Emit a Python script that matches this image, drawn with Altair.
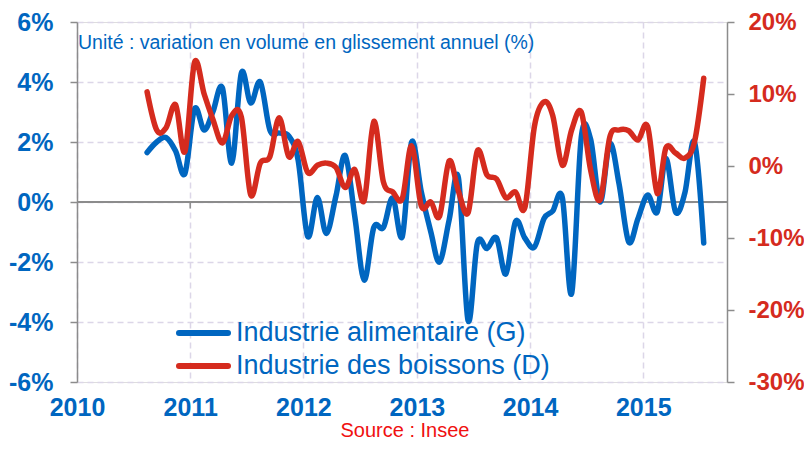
import altair as alt
import pandas as pd

BLUE = "#0066C0"
RED = "#D52B1E"
GRAY = "#8C8C8C"
GRID = "#DCD6E8"

# Monthly observations, Aug 2010 .. Jul 2015 (plotted mid-month)
start_month = "2010-08-01"
n_months = 60
dates = [(d + pd.Timedelta(days=14)).strftime("%Y-%m-%d")
         for d in pd.date_range(start_month, periods=n_months, freq="MS")]

alimentaire = [1.65, 2.0, 2.15, 1.7, 0.95, 3.1, 2.4, 3.0, 3.8, 1.3,
               4.3, 3.3, 4.0, 2.4, 2.3, 2.2, 1.4, -1.15, 0.15, -1.05,
               0.2, 1.55, -0.5, -2.6, -0.85, -0.85, 0.13, -1.15, 2.0, 0.35,
               -1.0, -2.0, -0.6, 0.8, -3.95, -1.37, -1.55, -1.2, -2.4, -0.65,
               -1.2, -1.5, -0.55, -0.3, 0.15, -3.05, 2.15, 2.1, 0.0, 1.95,
               0.6, -1.33, -0.55, 0.23, -0.33, 1.45, -0.33, 0.3, 2.0, -1.37]
boissons = [10.3, 5.0, 5.3, 8.5, 2.0, 14.4, 10.0, 6.5, 3.2, 7.0,
            6.8, -4.0, 0.4, 1.3, 6.7, 1.3, 3.4, -0.9, 0.1, 0.4,
            -0.2, -3.0, -0.5, -4.8, 6.2, -2.2, -3.6, -4.5, 2.8, -5.5,
            -5.0, -7.0, 0.7, -3.5, -6.5, 2.1, -1.25, -1.8, -4.4, -3.6,
            -5.8, 5.5, 8.9, 7.0, 0.1, 5.0, 7.5, -0.5, -4.7, 4.0,
            5.0, 4.9, 3.6, 5.5, -3.8, 2.5, 1.8, 1.1, 3.3, 12.2]

series_names = ["Industrie alimentaire (G)", "Industrie des boissons (D)"]
years = [2010, 2011, 2012, 2013, 2014, 2015]
left_ticks = [-6, -4, -2, 0, 2, 4, 6]
right_ticks = [-30, -20, -10, 0, 10, 20]
unit_text = "Unité : variation en volume en glissement annuel (%)"
source_text = "Source : Insee"

df_g = pd.DataFrame({"date": dates, "value": alimentaire, "serie": series_names[0]})
df_d = pd.DataFrame({"date": dates, "value": boissons, "serie": series_names[1]})
df_years = pd.DataFrame({"date": [f"{y}-01-01" for y in years[1:]]})
df_legend = pd.DataFrame({"serie": series_names})

x_scale = alt.Scale(type="utc",
                    domain=[alt.DateTime(year=2010, month=1, date=1, utc=True),
                            alt.DateTime(year=2015, month=9, date=28, utc=True)])
x_axis = alt.Axis(values=[alt.DateTime(year=y, month=1, date=1, utc=True) for y in years],
                  format="%Y", formatType="utc", title=None, grid=True,
                  gridDash=[6, 4], gridColor=GRID, gridWidth=1.5,
                  ticks=False, domain=False, labelFlush=False,
                  labelFont="Liberation Sans", labelFontWeight="bold",
                  labelFontSize=25, labelColor=BLUE, labelPadding=13)
x_enc = alt.X("date:T", scale=x_scale, axis=x_axis)

left_scale = alt.Scale(domain=[-6, 6], nice=False, zero=False)
right_scale = alt.Scale(domain=[-30, 20], nice=False, zero=False)

left_axis = alt.Axis(values=left_ticks, labelExpr="datum.value + '%'", title=None,
                     orient="left", grid=True, gridDash=[6, 4], gridColor=GRID,
                     gridWidth=1.5, domainColor=GRAY, domainWidth=1.5,
                     tickColor=GRAY, tickSize=7, tickWidth=1.5,
                     labelFont="Liberation Sans", labelFontWeight="bold",
                     labelFontSize=25, labelColor=BLUE, labelPadding=17)
right_axis = alt.Axis(values=right_ticks, labelExpr="datum.value + '%'", title=None,
                      orient="right", grid=False, domainColor=GRAY, domainWidth=1.5,
                      tickColor=GRAY, tickSize=7, tickWidth=1.5,
                      labelFont="Liberation Sans", labelFontWeight="bold",
                      labelFontSize=24, labelColor=RED, labelPadding=14,
                      labelAlign="left")

color_enc = alt.Color("serie:N",
                      scale=alt.Scale(domain=series_names, range=[BLUE, RED]),
                      legend=None)

zero_line = alt.Chart(df_years).mark_rule(color=GRAY, strokeWidth=2).encode(
    y=alt.Y(datum=0, scale=left_scale, axis=left_axis)
)
year_ticks = alt.Chart(df_years).mark_rule(color=GRAY, strokeWidth=1.5).encode(
    x=x_enc,
    y=alt.Y(datum=0, scale=left_scale, axis=left_axis),
    y2=alt.Y2(datum=-0.22),
)
line_g = alt.Chart(df_g).mark_line(strokeWidth=5.5, interpolate="cardinal",
                                   strokeCap="round", strokeJoin="round").encode(
    x=x_enc,
    y=alt.Y("value:Q", scale=left_scale, axis=left_axis),
    color=color_enc,
)
line_d = alt.Chart(df_d).mark_line(strokeWidth=5.5, interpolate="cardinal",
                                   strokeCap="round", strokeJoin="round").encode(
    x=x_enc,
    y=alt.Y("value:Q", scale=right_scale, axis=right_axis),
    color=color_enc,
)

# legend drawn inside the plot area: rows placed by a point scale
legend_y = alt.Y("serie:N", axis=None,
                 scale=alt.Scale(type="point", domain=series_names,
                                 range=[311, 344], padding=0))
legend_sym = alt.Chart(df_legend).mark_rule(strokeWidth=6, strokeCap="round").encode(
    x=alt.value(102), x2=alt.value(151), y=legend_y, color=color_enc
)
legend_txt = alt.Chart(df_legend).mark_text(
    align="left", baseline="middle", font="Liberation Sans", fontSize=27, color=BLUE
).encode(x=alt.value(159), y=legend_y, text="serie:N")
legend_part = alt.layer(legend_sym, legend_txt)

unit_label = alt.Chart(pd.DataFrame({"t": [unit_text]})).mark_text(
    align="left", baseline="middle", font="Liberation Sans", fontSize=19.5, color=BLUE
).encode(x=alt.value(1), y=alt.value(21), text="t:N")
source_label = alt.Chart(pd.DataFrame({"t": [source_text]})).mark_text(
    align="center", baseline="middle", font="Liberation Sans", fontSize=20, color="#F01010"
).encode(x=alt.value(328), y=alt.value(409), text="t:N")

left_part = alt.layer(zero_line, year_ticks, line_g)
chart = alt.layer(left_part, line_d, legend_part, unit_label, source_label).resolve_scale(
    y="independent"
).properties(
    width=650, height=360,
    autosize=alt.AutoSizeParams(type="none"),
    padding={"left": 69, "top": 14, "right": 77, "bottom": 60},
).configure_view(stroke=None).configure(background="white")

chart.save("out.html", embed_options={"renderer": "svg", "actions": False})
